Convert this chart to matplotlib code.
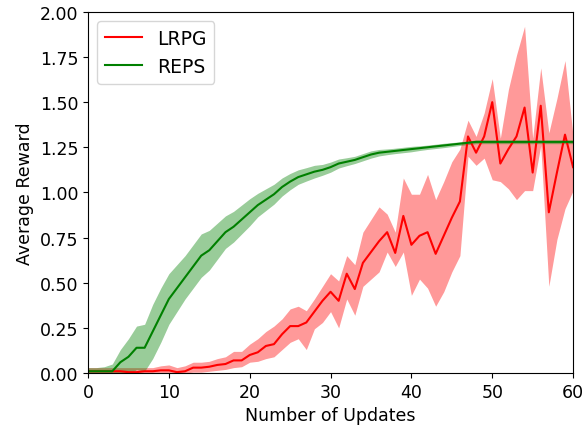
import numpy as np
import matplotlib
matplotlib.use("Agg")
import matplotlib.pyplot as plt

updates = list(range(61))

# LRPG mean and shaded band
lrpg_mean = [0.01, 0.01, 0.01, 0.01, 0.01, 0.005, 0.005, 0.01, 0.01, 0.015,
             0.015, 0.005, 0.01, 0.03, 0.03, 0.035, 0.045, 0.05, 0.07, 0.07,
             0.10, 0.115, 0.15, 0.16, 0.215, 0.26, 0.26, 0.28, 0.34, 0.40,
             0.45, 0.40, 0.55, 0.465, 0.61, 0.67, 0.73, 0.78, 0.665, 0.87,
             0.71, 0.76, 0.78, 0.66, 0.76, 0.86, 0.95, 1.31, 1.22, 1.31,
             1.50, 1.16, 1.24, 1.31, 1.47, 1.11, 1.48, 0.89, 1.11, 1.32,
             1.14]
lrpg_high = [0.03, 0.03, 0.03, 0.03, 0.03, 0.03, 0.03, 0.03, 0.03, 0.04,
             0.045, 0.03, 0.04, 0.06, 0.06, 0.065, 0.08, 0.09, 0.12, 0.12,
             0.16, 0.19, 0.23, 0.26, 0.30, 0.355, 0.37, 0.345, 0.41, 0.48,
             0.55, 0.51, 0.65, 0.60, 0.78, 0.85, 0.92, 0.88, 0.78, 1.08,
             0.99, 0.99, 1.10, 0.96, 1.06, 1.17, 1.24, 1.40, 1.31, 1.44,
             1.63, 1.30, 1.57, 1.76, 1.92, 1.30, 1.69, 1.33, 1.52, 1.73,
             1.31]
lrpg_low = [0.0, 0.0, 0.0, 0.0, 0.0, 0.0, 0.0, 0.0, 0.0, 0.0,
            0.0, 0.0, 0.0, 0.005, 0.005, 0.01, 0.015, 0.02, 0.03, 0.035,
            0.06, 0.065, 0.08, 0.09, 0.13, 0.17, 0.19, 0.13, 0.245, 0.28,
            0.34, 0.25, 0.41, 0.32, 0.48, 0.52, 0.56, 0.67, 0.59, 0.67,
            0.43, 0.52, 0.47, 0.37, 0.45, 0.56, 0.65, 1.20, 1.15, 1.19,
            1.07, 1.06, 1.02, 0.96, 1.01, 1.01, 1.26, 0.48, 0.74, 0.91,
            1.01]

# REPS mean and half-width of band
reps_mean = [0.01, 0.01, 0.01, 0.01, 0.06, 0.09, 0.14, 0.14, 0.23, 0.32,
             0.41, 0.47, 0.53, 0.59, 0.65, 0.68, 0.73, 0.78, 0.81, 0.85,
             0.89, 0.93, 0.96, 0.99, 1.03, 1.06, 1.085, 1.10, 1.115, 1.125,
             1.14, 1.16, 1.17, 1.18, 1.195, 1.21, 1.22, 1.225, 1.23, 1.235,
             1.24, 1.245, 1.25, 1.255, 1.26, 1.265, 1.27, 1.275, 1.28, 1.28,
             1.28, 1.28, 1.28, 1.28, 1.28, 1.28, 1.28, 1.28, 1.28, 1.28,
             1.28]
reps_spread = [0.02, 0.02, 0.025, 0.04, 0.07, 0.10, 0.12, 0.13, 0.15, 0.15,
               0.14, 0.13, 0.12, 0.12, 0.12, 0.11, 0.10, 0.09, 0.085, 0.08,
               0.075, 0.065, 0.06, 0.055, 0.05, 0.045, 0.04, 0.037, 0.035, 0.03,
               0.028, 0.025, 0.022, 0.02, 0.02, 0.02, 0.018, 0.016, 0.015, 0.015,
               0.015, 0.013, 0.012, 0.012, 0.012, 0.011, 0.01, 0.01, 0.01, 0.01,
               0.01, 0.01, 0.01, 0.01, 0.01, 0.01, 0.01, 0.01, 0.01, 0.01,
               0.01]

fig = plt.figure(figsize=(5.83, 4.27), dpi=100)
ax = fig.add_axes([0.151, 0.124, 0.832, 0.846])

reps_mean = np.array(reps_mean)
reps_spread = np.array(reps_spread)

ax.plot(updates, lrpg_mean, color="red", lw=1.5, label="LRPG")
ax.fill_between(updates, lrpg_low, lrpg_high, color="red", alpha=0.4, lw=0)
ax.plot(updates, reps_mean, color="green", lw=1.5, label="REPS")
ax.fill_between(updates, reps_mean - reps_spread, reps_mean + reps_spread,
                color="green", alpha=0.4, lw=0)

ax.set_xlim(0, 60)
ax.set_ylim(0, 2.0)
ax.set_yticks(np.arange(0, 2.01, 0.25))
ax.set_yticklabels(["%.2f" % v for v in np.arange(0, 2.01, 0.25)])
ax.tick_params(labelsize=12.5)
ax.set_xlabel("Number of Updates", fontsize=12.5)
ax.set_ylabel("Average Reward", fontsize=12.5)
ax.legend(loc="upper left", fontsize=13.5)

fig.savefig("out.png", dpi=100)
